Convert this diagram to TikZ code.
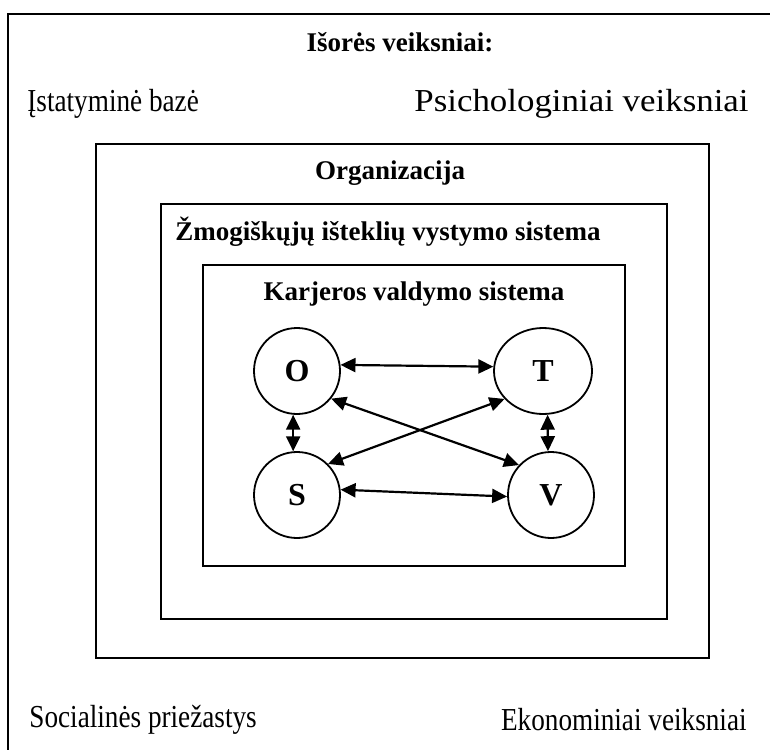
\documentclass[tikz,border=0pt]{standalone}
\usepackage{graphicx}
\usepackage{fontspec}
\setmainfont{Liberation Serif}
\usetikzlibrary{arrows.meta,shapes.geometric}
\newcommand{\squeezed}[2][0.85]{\scalebox{#1}[1]{#2}}
\tikzstyle{frame}=[black, line width=1.4pt]
\tikzstyle{factor}=[inner sep=0pt, font=\fontsize{16}{19}\selectfont]
\tikzstyle{heading}=[inner sep=0pt, font=\fontsize{13.5}{16}\selectfont\bfseries]
\tikzstyle{state}=[draw, circle, line width=0.9pt, minimum size=43pt, inner sep=0pt, font=\fontsize{16}{20}\selectfont\bfseries]
\tikzstyle{link}=[{Triangle[length=7.5pt,width=7pt]}-{Triangle[length=7.5pt,width=7pt]}, line width=1.1pt]

\begin{document}
\begin{tikzpicture}[x=0.5pt,y=-0.5pt]
				\useasboundingbox (0,0) rectangle (770,749);
				\clip (0,0) rectangle (770,749);
				% frames
				\draw[frame] (8,14) rectangle (800,780);
				\draw[frame] (96,144) rectangle (709,658);
				\draw[frame] (161,204) rectangle (667,619);
				\draw[frame] (203,265) rectangle (625,566);
				% outer factors
				\node[heading] (out) at (400,42) {Išorės veiksniai:};
				\node[factor, anchor=west] (law) at (27,104) {\squeezed{Įstatyminė bazė}};
				\node[factor, anchor=east] (psy) at (749,104) {\squeezed[1.09]{Psichologiniai veiksniai}};
				\node[factor, anchor=west] (soc) at (29,720) {\squeezed{Socialinės priežastys}};
				\node[factor, anchor=east] (eco) at (747,720) {\squeezed{Ekonominiai veiksniai}};
				\node[heading] (org) at (390,173) {Organizacija};
				\node[heading] (hrd) at (388,232) {Žmogiškųjų išteklių vystymo sistema};
				\node[heading] (kvs) at (414,294) {Karjeros valdymo sistema};
				% career system
				\node[state] (O) at (297,371) {O};
				\node[state, ellipse, minimum width=49pt, minimum height=43pt] (T) at (543,371) {T};
				\node[state] (S) at (297,495) {S};
				\node[state] (V) at (551,495) {V};
				\draw[link] (O.8) -- (T.175);
				\draw[link] (S.7) -- (V.182);
				\draw[link] (O.-95) -- (S.95);
				\draw[link] (T.-84) -- (V.94);
				\draw[link] (O.-39) -- (V.137);
				\draw[link] (T.216) -- (S.45);
			\end{tikzpicture}
\end{document}
